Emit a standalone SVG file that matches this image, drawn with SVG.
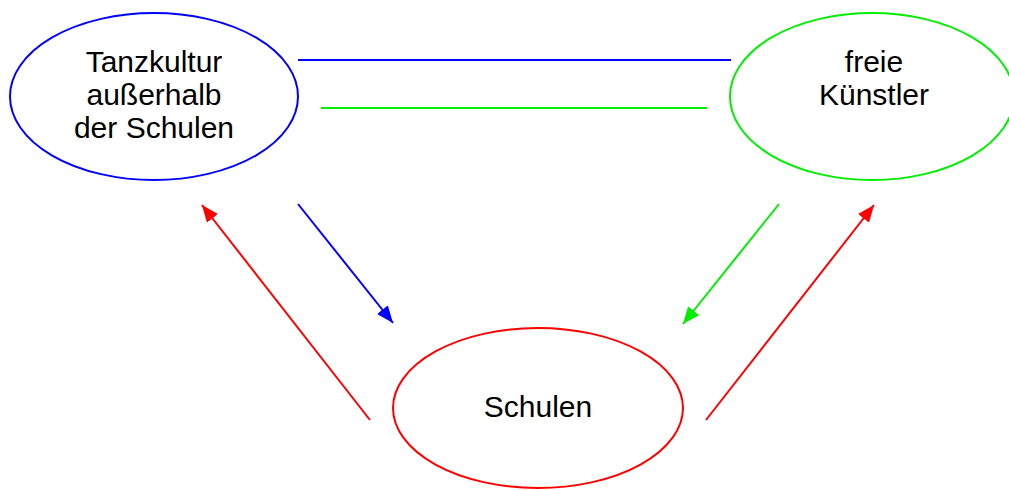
<svg xmlns="http://www.w3.org/2000/svg" width="1009" height="490" viewBox="0 0 1009 490">
<style>
.lbl{font-family:"Liberation Sans",Arial,sans-serif;font-size:30px;fill:#000;text-anchor:middle}
.node{fill:#fff;stroke-width:2}
.c{fill:none;stroke-width:2}
</style>
<defs>
<marker id="aB" markerUnits="userSpaceOnUse" markerWidth="18" markerHeight="14" refX="17" refY="7" orient="auto"><path d="M0,0 L17,7 L0,14 Z" fill="#0000ff"/></marker>
<marker id="aG" markerUnits="userSpaceOnUse" markerWidth="18" markerHeight="14" refX="17" refY="7" orient="auto"><path d="M0,0 L17,7 L0,14 Z" fill="#00ee00"/></marker>
<marker id="aR" markerUnits="userSpaceOnUse" markerWidth="18" markerHeight="14" refX="17" refY="7" orient="auto"><path d="M0,0 L17,7 L0,14 Z" fill="#ff0000"/></marker>
</defs>
<rect width="1009" height="490" fill="#fff"/>
<g id="connectors">
<line class="c" x1="298" y1="60" x2="731" y2="60" stroke="#0000ff"/>
<line class="c" x1="321" y1="108" x2="707" y2="108" stroke="#00ee00"/>
<line class="c" x1="298" y1="204" x2="393" y2="323" stroke="#0000ff" marker-end="url(#aB)"/>
<line class="c" x1="779" y1="204" x2="683" y2="324" stroke="#00ee00" marker-end="url(#aG)"/>
<line class="c" x1="370" y1="420" x2="202" y2="205" stroke="#ff0000" marker-end="url(#aR)"/>
<line class="c" x1="706" y1="420" x2="874" y2="205" stroke="#ff0000" marker-end="url(#aR)"/>
</g>
<g id="node-tanzkultur">
<ellipse class="node" cx="154" cy="96.5" rx="144" ry="83.5" stroke="#0000ff"/>
<text class="lbl" x="154" y="72">Tanzkultur</text>
<text class="lbl" x="154" y="105">außerhalb</text>
<text class="lbl" x="154" y="138">der Schulen</text>
</g>
<g id="node-kuenstler">
<ellipse class="node" cx="872" cy="96.5" rx="142" ry="83.5" stroke="#00ee00"/>
<text class="lbl" x="874" y="72">freie</text>
<text class="lbl" x="874" y="105">Künstler</text>
</g>
<g id="node-schulen">
<ellipse class="node" cx="538" cy="408" rx="145" ry="80" stroke="#ff0000"/>
<text class="lbl" x="538" y="417">Schulen</text>
</g>
</svg>
